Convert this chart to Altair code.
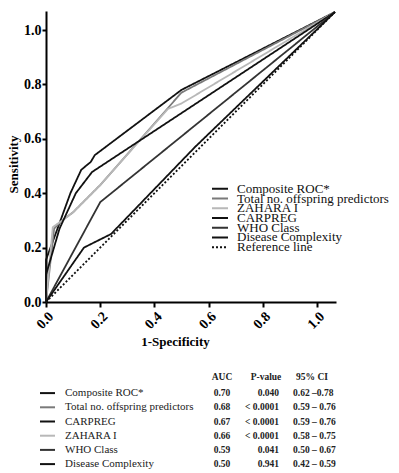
import altair as alt
import pandas as pd

# ---------------- ROC curve data ----------------
series_names = ["Composite ROC*", "Total no. offspring predictors", "ZAHARA I",
                "CARPREG", "WHO Class", "Disease Complexity", "Reference line"]

composite_x = [0, 0, 0.05, 0.09, 0.13, 0.165, 0.18, 0.50, 1.066]
composite_y = [0, 0.155, 0.29, 0.40, 0.486, 0.515, 0.54, 0.78, 1.066]

offspring_x = [0, 0.03, 0.06, 0.10, 0.20, 0.50, 1.066]
offspring_y = [0, 0.27, 0.30, 0.33, 0.43, 0.77, 1.066]

zahara_x = [0, 0.025, 0.06, 0.10, 0.20, 0.45, 0.50, 1.066]
zahara_y = [0, 0.275, 0.30, 0.33, 0.43, 0.71, 0.73, 1.066]

carpreg_x = [0, 0, 0.05, 0.11, 0.17, 1.066]
carpreg_y = [0, 0.10, 0.27, 0.40, 0.478, 1.066]

who_x = [0, 0.20, 1.066]
who_y = [0, 0.367, 1.066]

disease_x = [0, 0.14, 0.24, 0.55, 1.066]
disease_y = [0, 0.20, 0.25, 0.57, 1.066]

reference_x = [0, 1.066]
reference_y = [0, 1.066]

axis_ticks = [0.0, 0.2, 0.4, 0.6, 0.8, 1.0]

# ---------------- table data ----------------
table_headers = ["AUC", "P-value", "95% CI"]
table_names = ["Composite ROC*", "Total no. offspring predictors", "CARPREG",
               "ZAHARA I", "WHO Class", "Disease Complexity"]
table_auc = ["0.70", "0.68", "0.67", "0.66", "0.59", "0.50"]
table_p = ["0.040", "< 0.0001", "< 0.0001", "< 0.0001", "0.041", "0.941"]
table_ci = ["0.62 \u20130.78", "0.59 \u2013 0.76", "0.59 \u2013 0.76",
            "0.58 \u2013 0.75", "0.50 \u2013 0.67", "0.42 \u2013 0.59"]

# ---------------- styles ----------------
series_colors = ["#111111", "#7a7a7a", "#b8b8b8", "#111111", "#333333", "#111111", "#111111"]
series_dashes = [[1, 0], [1, 0], [1, 0], [1, 0], [1, 0], [1, 0], [2, 2]]
SERIF = "Liberation Serif"

xs_list = [composite_x, offspring_x, zahara_x, carpreg_x, who_x, disease_x, reference_x]
ys_list = [composite_y, offspring_y, zahara_y, carpreg_y, who_y, disease_y, reference_y]
rows = []
for name, xs, ys in zip(series_names, xs_list, ys_list):
    for i, (a, b) in enumerate(zip(xs, ys)):
        rows.append({"series": name, "fpr": a, "tpr": b, "i": i})
df = pd.DataFrame(rows)
ldf = pd.DataFrame({"series": series_names})

color_scale = alt.Scale(domain=series_names, range=series_colors)
dash_scale = alt.Scale(domain=series_names, range=series_dashes)

axis_common = dict(domainColor="#000000", domainWidth=2, tickColor="#000000",
                   tickWidth=2, grid=False, labelFont=SERIF, labelFontWeight="bold",
                   labelFontSize=14, labelColor="#000000", titleFont=SERIF,
                   titleFontWeight="bold", titleFontSize=13, titleColor="#000000",
                   values=axis_ticks, format=".1f")

lines = alt.Chart(df).mark_line(strokeWidth=1.8, clip=False).encode(
    x=alt.X("fpr:Q", scale=alt.Scale(domain=[0, 1.07], nice=False, zero=False),
            axis=alt.Axis(title="1-Specificity", labelAngle=315, tickSize=5,
                          labelPadding=2, titleX=129, titleY=39,
                          titleBaseline="middle", titleAlign="center", **axis_common)),
    y=alt.Y("tpr:Q", scale=alt.Scale(domain=[0, 1.07], nice=False, zero=False),
            axis=alt.Axis(title="Sensitivity", tickSize=4, labelPadding=1,
                          titleX=-33, titleY=153, titleBaseline="middle",
                          titleAlign="center", titleAngle=270, **axis_common)),
    color=alt.Color("series:N", scale=color_scale, legend=None),
    strokeDash=alt.StrokeDash("series:N", scale=dash_scale, legend=None),
    order=alt.Order("i:Q"),
)

# legend drawn as a small key inside the plot (rows placed by a point scale)
ly = alt.Y("series:N", sort=series_names, axis=None,
           scale=alt.Scale(type="point", domain=series_names, range=[173, 241]))
leg_rules = alt.Chart(ldf).mark_rule(strokeWidth=2).encode(
    y=ly, x=alt.value(166), x2=alt.value(182),
    color=alt.Color("series:N", scale=color_scale, legend=None),
    strokeDash=alt.StrokeDash("series:N", scale=dash_scale, legend=None))
leg_text = alt.Chart(ldf).mark_text(align="left", baseline="middle", font=SERIF,
                                    fontSize=13, color="#111111").encode(
    y=ly, x=alt.value(191), text="series:N")

main = alt.layer(lines, leg_rules, leg_text).resolve_scale(y="independent").properties(
    width=290, height=291)

# ---------------- table ----------------
tdf = pd.DataFrame({"name": table_names, "auc": table_auc, "p": table_p, "ci": table_ci})
hdf = pd.DataFrame({"h": table_headers})

ty = alt.Y("name:N", sort=table_names, axis=None,
           scale=alt.Scale(paddingInner=0, paddingOuter=0))
tbase = alt.Chart(tdf)

t_rules = tbase.mark_rule(strokeWidth=2).encode(
    y=ty, x=alt.value(-6), x2=alt.value(9),
    color=alt.Color("name:N", scale=color_scale, legend=None))
t_names = tbase.mark_text(align="left", baseline="middle", font=SERIF, fontSize=11,
                          color="#222222").encode(y=ty, x=alt.value(19), text="name:N")
t_auc = tbase.mark_text(align="center", baseline="middle", font=SERIF, fontSize=9.5,
                        fontWeight="bold", color="#222222").encode(
    y=ty, x=alt.value(176), text="auc:N")
t_p = tbase.mark_text(align="right", baseline="middle", font=SERIF, fontSize=9.5,
                      fontWeight="bold", color="#222222").encode(
    y=ty, x=alt.value(233), text="p:N")
t_ci = tbase.mark_text(align="left", baseline="middle", font=SERIF, fontSize=9.5,
                       fontWeight="bold", color="#222222").encode(
    y=ty, x=alt.value(247), text="ci:N")

def header(idx, xpos):
    return alt.Chart(hdf).transform_filter(alt.datum.h == table_headers[idx]).mark_text(
        align="center", baseline="middle", font=SERIF, fontSize=9.5, fontWeight="bold",
        color="#222222").encode(x=alt.value(xpos), y=alt.value(-9), text="h:N")

table = alt.layer(t_rules, t_names, t_auc, t_p, t_ci,
                  header(0, 176), header(1, 220), header(2, 266)).properties(
    width=290, height=85.2)

chart = alt.vconcat(main, table, spacing=24).resolve_scale(
    color="independent", strokeDash="independent", y="independent", x="independent"
).properties(
    padding={"left": 7, "top": 8, "right": 0, "bottom": 0}, background="white"
).configure_view(stroke=None).configure_axis(
    labelFont=SERIF, titleFont=SERIF
).configure_text(font=SERIF)

chart.save("out.html", embed_options={"renderer": "svg", "actions": False})
